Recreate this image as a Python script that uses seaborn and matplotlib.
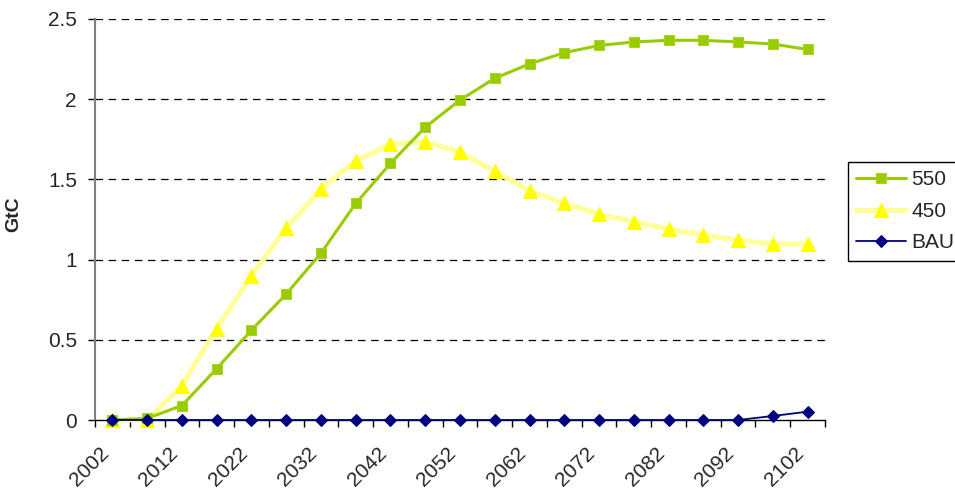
import numpy as np
import pandas as pd
import matplotlib
matplotlib.use('Agg')
import matplotlib.pyplot as plt
import seaborn as sns
from matplotlib.ticker import FixedLocator

# data (GtC, every 5 years)
years = [2002, 2007, 2012, 2017, 2022, 2027, 2032, 2037, 2042, 2047, 2052,
         2057, 2062, 2067, 2072, 2077, 2082, 2087, 2092, 2097, 2102]
s550 = [0.0, 0.01, 0.09, 0.32, 0.56, 0.785, 1.04, 1.35, 1.60, 1.825, 1.995,
        2.13, 2.22, 2.29, 2.335, 2.357, 2.367, 2.367, 2.357, 2.344, 2.31]
s450 = [0.0, 0.0, 0.215, 0.57, 0.90, 1.195, 1.44, 1.615, 1.72, 1.735, 1.67,
        1.55, 1.43, 1.35, 1.284, 1.236, 1.19, 1.153, 1.122, 1.097, 1.097]
bau = [0, 0, 0, 0, 0, 0, 0, 0, 0, 0, 0,
       0, 0, 0, 0, 0, 0, 0, 0, 0.025, 0.052]
tick_years = years[::2]

sns.set_style('white')
plt.rcParams['font.family'] = ['Liberation Sans', 'DejaVu Sans']
plt.rcParams['font.size'] = 15

fig = plt.figure(figsize=(9.55, 4.96), dpi=100)
ax = fig.add_axes([95 / 955, 1 - 420 / 496, 730 / 955, 401 / 496])

# 450 first so that the squares sit on top, BAU last
sns.lineplot(x=years, y=s450, ax=ax, color='#FFFF99', linewidth=3.6,
             marker='^', markersize=10, markerfacecolor='#FFFF00',
             markeredgecolor='#FFFF00', label='450', clip_on=False, zorder=3)
sns.lineplot(x=years, y=s550, ax=ax, color='#99CC00', linewidth=2.2,
             marker='s', markersize=7.5, markerfacecolor='#99CC00',
             markeredgecolor='#A8D420', label='550', clip_on=False, zorder=4)
sns.lineplot(x=years, y=bau, ax=ax, color='#000080', linewidth=1.3,
             marker='D', markersize=6.5, markerfacecolor='#000080',
             markeredgecolor='#000080', label='BAU', clip_on=False, zorder=5)

ax.set_xlim(1999.5, 2104.5)
ax.set_ylim(0, 2.5)
ax.set_yticks([0, 0.5, 1, 1.5, 2, 2.5])
ax.set_yticklabels(['0', '0.5', '1', '1.5', '2', '2.5'])
for v in [0.5, 1, 1.5, 2, 2.5]:
    ax.axhline(v, color='black', linewidth=0.9, linestyle=(0, (6, 4.5)), zorder=1)

ax.set_xticks(tick_years)
ax.set_xticklabels([str(y) for y in tick_years], rotation=45, ha='right')
ax.xaxis.set_minor_locator(FixedLocator([1999.5 + 5 * k for k in range(22)]))
ax.tick_params(axis='x', which='major', length=0, pad=17, labelsize=15)
ax.tick_params(axis='x', which='minor', length=5, width=1, color='black', direction='out', bottom=True)
ax.tick_params(axis='y', length=5, width=1, color='black', direction='out', left=True, pad=8, labelsize=15)

for side in ['top', 'right']:
    ax.spines[side].set_visible(False)
ax.spines['left'].set_color('#808080')
ax.spines['left'].set_linewidth(1.5)
ax.spines['bottom'].set_color('black')
ax.spines['bottom'].set_linewidth(1)

ax.set_xlabel('')
ax.set_ylabel('GtC', fontsize=14, fontweight='bold')
ax.yaxis.set_label_coords(-0.099, 0.514)

# legend order as in the reference
handles, labels = ax.get_legend_handles_labels()
order = [1, 0, 2]
leg = ax.legend([handles[i] for i in order], [labels[i] for i in order],
                loc='upper left', bbox_to_anchor=(848 / 955, 1 - 162 / 496),
                bbox_transform=fig.transFigure, borderaxespad=0, fancybox=False,
                frameon=True, edgecolor='black', framealpha=1, fontsize=15,
                handlelength=2.4, handletextpad=0.25, labelspacing=0.6,
                borderpad=0.4)
leg.get_frame().set_linewidth(1)

fig.savefig('out.png', dpi=100)
